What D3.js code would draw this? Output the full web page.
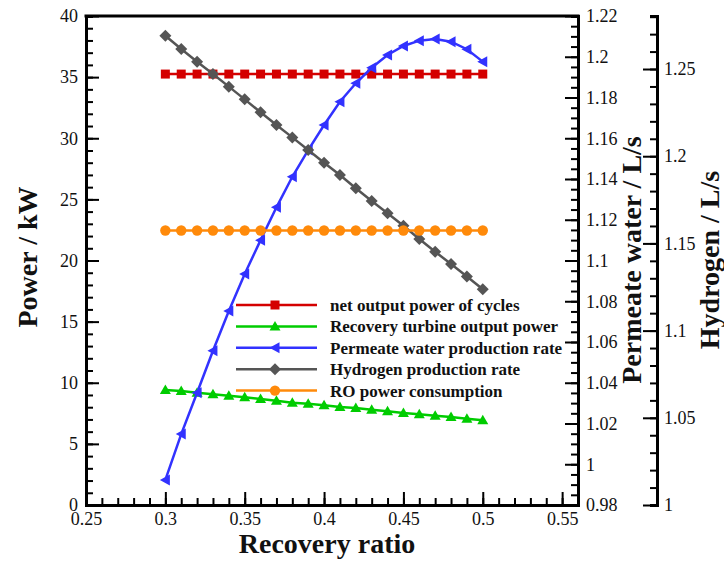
<!DOCTYPE html>
<html>
<head>
<meta charset="utf-8">
<script src="https://cdn.jsdelivr.net/npm/d3@7"></script>
<style>
  body { margin: 0; background: #fff; }
  svg text { font-family: 'Liberation Serif', 'Times New Roman', serif; fill: #111; }
  .axisTitle { font-size: 28px; font-weight: bold; }
  .legendText { font-size: 17px; font-weight: bold; }
</style>
</head>
<body>
<div id="chart"></div>
<script>
/**
 * constant variables
 */
const WIDTH = 724;
const HEIGHT = 562;
const PLOT = { left: 86, right: 578, top: 16, bottom: 505 };
const H2_AXIS_X = 657;
const SERIF = "'Liberation Serif', 'Times New Roman', serif";

// recovery ratio
const recovery = [0.30, 0.31, 0.32, 0.33, 0.34, 0.35, 0.36, 0.37, 0.38, 0.39, 0.40,
                  0.41, 0.42, 0.43, 0.44, 0.45, 0.46, 0.47, 0.48, 0.49, 0.50];

// power series (kW)
const netPower = [35.25, 35.25, 35.25, 35.25, 35.25, 35.25, 35.25, 35.25, 35.25, 35.25, 35.25,
                  35.25, 35.25, 35.25, 35.25, 35.25, 35.25, 35.25, 35.25, 35.25, 35.25];
const turbinePower = [9.41, 9.33, 9.19, 9.05, 8.94, 8.81, 8.67, 8.53, 8.37, 8.29, 8.16,
                      8.02, 7.93, 7.79, 7.66, 7.52, 7.42, 7.30, 7.20, 7.06, 6.93];
const roPower = [22.45, 22.45, 22.45, 22.45, 22.45, 22.45, 22.45, 22.45, 22.45, 22.45, 22.45,
                 22.45, 22.45, 22.45, 22.45, 22.45, 22.45, 22.45, 22.45, 22.45, 22.45];

// permeate water (L/s)
const permeate = [0.9923, 1.0148, 1.0351, 1.0557, 1.0752, 1.0934, 1.1100, 1.1261, 1.1411, 1.1542, 1.1665,
                  1.1779, 1.1870, 1.1946, 1.2009, 1.2053, 1.2079, 1.2087, 1.2074, 1.2037, 1.1976];

// hydrogen (L/s)
const hydrogen = [1.2691, 1.2615, 1.2542, 1.2471, 1.2399, 1.2326, 1.2252, 1.2179, 1.2108, 1.2036, 1.1963,
                  1.1892, 1.1816, 1.1743, 1.1673, 1.1601, 1.1525, 1.1452, 1.1382, 1.1310, 1.1237];

// tick labels
const xTicks = ["0.25", "0.3", "0.35", "0.4", "0.45", "0.5", "0.55"];
const powerTicks = ["0", "5", "10", "15", "20", "25", "30", "35", "40"];
const permeateTicks = ["0.98", "1", "1.02", "1.04", "1.06", "1.08", "1.1", "1.12", "1.14",
                       "1.16", "1.18", "1.2", "1.22"];
const hydrogenTicks = ["1", "1.05", "1.1", "1.15", "1.2", "1.25"];

const legendNames = ["net output power of cycles", "Recovery turbine output power",
                     "Permeate water production rate", "Hydrogen production rate",
                     "RO power consumption"];

const svg = d3.select("#chart").append("svg")
              .attr("width", WIDTH)
              .attr("height", HEIGHT);

const x = d3.scaleLinear().domain([0.25, 0.56]).range([PLOT.left, PLOT.right]);
const yPower = d3.scaleLinear().domain([0, 40]).range([PLOT.bottom, PLOT.top]);
const yWater = d3.scaleLinear().domain([0.98, 1.22]).range([PLOT.bottom, PLOT.top]);
const yH2 = d3.scaleLinear().domain([1, 1.2804]).range([PLOT.bottom, PLOT.top]);

function minorTicks(lo, hi, step) {
    const out = [];
    for (let v = lo; v <= hi + 1e-9; v += step) out.push(+v.toFixed(4));
    return out;
}

function styleAxis(g) {
    g.attr("font-family", SERIF).attr("font-size", 18);
    g.selectAll("path.domain").attr("stroke", "#000").attr("stroke-width", 3);
    g.selectAll(".tick line").attr("stroke", "#000").attr("stroke-width", 2);
    g.selectAll(".tick text")
     .style("font-family", SERIF)
     .style("font-size", "18px")
     .attr("fill", "#222");
}

// minor ticks first
svg.append("g")
   .attr("transform", `translate(0, ${PLOT.bottom})`)
   .call(d3.axisBottom(x).tickValues(minorTicks(0.25, 0.56, 0.01)).tickSize(-7).tickFormat(""))
   .call(styleAxis);
svg.append("g")
   .attr("transform", `translate(${PLOT.left}, 0)`)
   .call(d3.axisLeft(yPower).tickValues(minorTicks(0, 40, 1)).tickSize(-7).tickFormat(""))
   .call(styleAxis);
svg.append("g")
   .attr("transform", `translate(${PLOT.right}, 0)`)
   .call(d3.axisRight(yWater).tickValues(minorTicks(0.98, 1.22, 0.005)).tickSize(-7).tickFormat(""))
   .call(styleAxis);
svg.append("g")
   .attr("transform", `translate(${H2_AXIS_X}, 0)`)
   .call(d3.axisRight(yH2).tickValues(minorTicks(1, 1.28, 0.01)).tickSize(-7).tickFormat(""))
   .call(styleAxis);

// major ticks with labels
svg.append("g")
   .attr("transform", `translate(0, ${PLOT.bottom})`)
   .call(d3.axisBottom(x).tickValues(xTicks.map(Number)).tickSizeInner(-13).tickSizeOuter(0)
           .tickPadding(7).tickFormat((d, i) => xTicks[i]))
   .call(styleAxis);
svg.append("g")
   .attr("transform", `translate(${PLOT.left}, 0)`)
   .call(d3.axisLeft(yPower).tickValues(powerTicks.map(Number)).tickSizeInner(-13).tickSizeOuter(0)
           .tickPadding(8).tickFormat((d, i) => powerTicks[i]))
   .call(styleAxis);
svg.append("g")
   .attr("transform", `translate(${PLOT.right}, 0)`)
   .call(d3.axisRight(yWater).tickValues(permeateTicks.map(Number)).tickSizeInner(-13).tickSizeOuter(0)
           .tickPadding(8).tickFormat((d, i) => permeateTicks[i]))
   .call(styleAxis);
svg.append("g")
   .attr("transform", `translate(${H2_AXIS_X}, 0)`)
   .call(d3.axisRight(yH2).tickValues(hydrogenTicks.map(Number)).tickSizeInner(-14).tickSizeOuter(0)
           .tickPadding(7).tickFormat((d, i) => hydrogenTicks[i]))
   .call(styleAxis);

// top frame line
svg.append("line")
   .attr("x1", PLOT.left - 1.5).attr("x2", PLOT.right + 1.5)
   .attr("y1", PLOT.top).attr("y2", PLOT.top)
   .attr("stroke", "#000").attr("stroke-width", 3);

// axis titles
svg.append("text").attr("class", "axisTitle")
   .attr("text-anchor", "middle")
   .attr("x", 327).attr("y", 553)
   .text("Recovery ratio");
svg.append("text").attr("class", "axisTitle")
   .attr("text-anchor", "middle")
   .attr("transform", "translate(37, 257) rotate(-90)")
   .text("Power / kW");
svg.append("text").attr("class", "axisTitle")
   .attr("text-anchor", "middle")
   .attr("transform", "translate(641, 260) rotate(-90)")
   .text("Permeate water / L/s");
svg.append("text").attr("class", "axisTitle")
   .attr("text-anchor", "middle")
   .attr("transform", "translate(719, 260) rotate(-90)")
   .text("Hydrogen / L/s");

/**
 * series definitions
 */
const symbols = {
    square: "M-4.5,-4.5H4.5V4.5H-4.5Z",
    triUp: "M0,-5.5L5.5,4L-5.5,4Z",
    triLeft: "M-5.5,0L4.5,-5.5L4.5,5.5Z",
    diamond: "M0,-6L6,0L0,6L-6,0Z",
    circle: d3.symbol(d3.symbolCircle, 85)()
};

const series = [
    { name: legendNames[0], values: netPower, y: yPower, color: "#d40000", symbol: symbols.square },
    { name: legendNames[1], values: turbinePower, y: yPower, color: "#00cc00", symbol: symbols.triUp },
    { name: legendNames[2], values: permeate, y: yWater, color: "#3232ff", symbol: symbols.triLeft },
    { name: legendNames[3], values: hydrogen, y: yH2, color: "#555555", symbol: symbols.diamond },
    { name: legendNames[4], values: roPower, y: yPower, color: "#ff8a0a", symbol: symbols.circle }
];

series.forEach(s => {
    const line = d3.line()
                   .x((d, i) => x(recovery[i]))
                   .y(d => s.y(d));

    svg.append("path")
       .attr("d", line(s.values))
       .attr("fill", "none")
       .attr("stroke", s.color)
       .attr("stroke-width", 2.5);

    svg.append("g")
       .selectAll("path")
       .data(s.values)
       .enter()
       .append("path")
       .attr("d", s.symbol)
       .attr("transform", (d, i) => `translate(${x(recovery[i])}, ${s.y(d)})`)
       .attr("fill", s.color);
});

// legend
const legend = svg.append("g").attr("transform", "translate(236, 305)");
series.forEach((s, i) => {
    const row = legend.append("g").attr("transform", `translate(0, ${i * 21.4})`);
    row.append("line")
       .attr("x1", 0).attr("x2", 81)
       .attr("y1", 0).attr("y2", 0)
       .attr("stroke", s.color)
       .attr("stroke-width", 2.5);
    row.append("path")
       .attr("d", s.symbol)
       .attr("transform", "translate(39, 0)")
       .attr("fill", s.color);
    row.append("text")
       .attr("class", "legendText")
       .attr("x", 94)
       .attr("y", 6)
       .text(s.name);
});
</script>
</body>
</html>
